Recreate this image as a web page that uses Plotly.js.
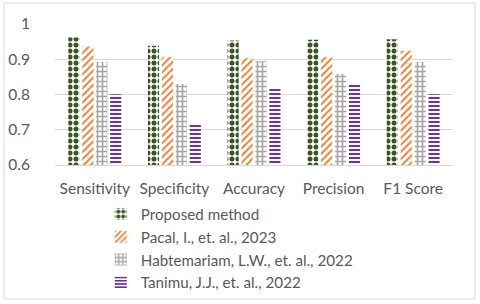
<!DOCTYPE html>
<html><head><meta charset="utf-8">
<script src="https://cdn.plot.ly/plotly-3.0.1.min.js"></script>
<style>html,body{margin:0;padding:0;background:#fff;}#chart{width:480px;height:304px;}</style>
</head><body><div id="chart"></div>
<script>
const categories = ["Sensitivity", "Specificity", "Accuracy", "Precision", "F1 Score"];
const seriesNames = ["Proposed method", "Pacal, I., et. al., 2023", "Habtemariam, L.W., et. al., 2022", "Tanimu, J.J., et. al., 2022"];
const proposed = [0.962, 0.938, 0.953, 0.955, 0.957];
const pacal = [0.936, 0.906, 0.903, 0.906, 0.924];
const habtemariam = [0.892, 0.830, 0.894, 0.858, 0.892];
const tanimu = [0.801, 0.714, 0.819, 0.827, 0.801];
const yTicks = [0.6, 0.7, 0.8, 0.9, 1];

const colors = ["#375623", "#ED7D31", "#A5A5A5", "#7030A0"];
const shapes = [".", "/", "+", "-"];
const sizes = [6, 5, 5, 4];
const solid = [0.55, 0.4, 0.55, 0.5];
const data = [proposed, pacal, habtemariam, tanimu].map((vals, i) => ({
  type: "bar",
  name: seriesNames[i],
  x: categories,
  y: vals,
  base: 0,
  marker: {
    color: colors[i],
    line: {width: 0},
    pattern: {shape: shapes[i], fgcolor: colors[i], bgcolor: "#ffffff", fillmode: "replace", size: sizes[i], solidity: solid[i]}
  }
}));

const layout = {
  width: 480, height: 304,
  margin: {l: 55, r: 27, t: 24, b: 139, autoexpand: false},
  paper_bgcolor: "#ffffff", plot_bgcolor: "#ffffff",
  font: {family: "Lato, 'Open Sans', sans-serif", size: 15, color: "#595959"},
  barmode: "group", bargap: 0.3, bargroupgap: 0.2,
  showlegend: true,
  legend: {orientation: "v", x: 0.115, xanchor: "left", y: -0.232, yanchor: "top",
           font: {size: 15.2, color: "#595959"}, tracegroupgap: 0, itemwidth: 30, bgcolor: "rgba(0,0,0,0)"},
  xaxis: {type: "category", showgrid: false, showline: true, linecolor: "#d9d9d9", linewidth: 1,
          ticks: "", ticklabelstandoff: 9, tickfont: {size: 15.5, color: "#595959"}},
  yaxis: {range: [0.6, 1.0], tickvals: yTicks, ticktext: yTicks.map(v => v === 1 ? "1" : v.toFixed(1)),
          showgrid: true, gridcolor: "#d9d9d9", gridwidth: 1, zeroline: false, showline: false,
          ticks: "", ticklabelstandoff: 24, tickfont: {size: 15.5, color: "#595959"}},
  shapes: [{type: "rect", xref: "paper", yref: "paper", x0: -0.128, x1: 1.055, y0: -0.95, y1: 1.149,
            line: {color: "#d9d9d9", width: 1}, fillcolor: "rgba(0,0,0,0)", layer: "below"}]
};
Plotly.newPlot("chart", data, layout, {displayModeBar: false, staticPlot: true});
</script></body></html>
